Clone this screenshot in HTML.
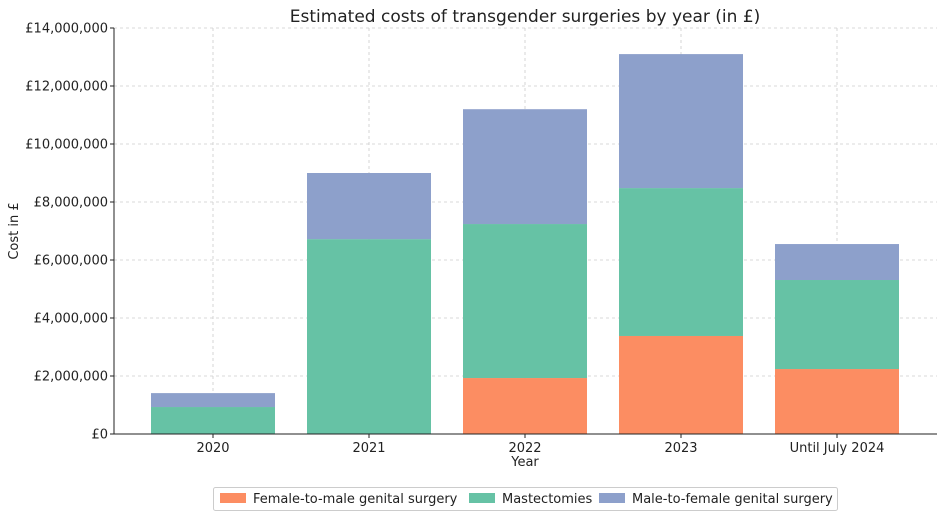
<!DOCTYPE html>
<html><head><meta charset="utf-8"><style>
body{margin:0;background:#fff;font-family:"Liberation Sans","DejaVu Sans",sans-serif;}
svg text{font-family:"DejaVu Sans","Liberation Sans",sans-serif;fill:#222;}
</style></head><body>
<svg id="chart" width="945" height="518" xmlns="http://www.w3.org/2000/svg">
<rect width="945" height="518" fill="#fff"/>
<text x="525" y="22" font-size="17" text-anchor="middle">Estimated costs of transgender surgeries by year (in £)</text>
<g id="grid"></g><g id="bars"></g><g id="axes"></g>
<text x="525" y="466" font-size="13" text-anchor="middle">Year</text>
<text x="18" y="231" font-size="13" text-anchor="middle" transform="rotate(-90 18 231)">Cost in £</text>
<g id="legend">
<rect x="213.5" y="487.5" width="624" height="23" fill="#fff" stroke="#ccc" rx="2"/>
</g>
</svg>
<script>
const categories=["2020","2021","2022","2023","Until July 2024"];
const ftm=[0,0,1930000,3380000,2240000];
const mastectomies=[930000,6720000,5310000,5100000,3070000];
const mtf=[480000,2280000,3960000,4620000,1240000];
const yTicks=[0,2000000,4000000,6000000,8000000,10000000,12000000,14000000];
const seriesNames=["Female-to-male genital surgery","Mastectomies","Male-to-female genital surgery"];
const colors=["#fc8d62","#66c2a5","#8da0cb"];
const NS="http://www.w3.org/2000/svg";
const L=114,R=937,T=28,B=434;
const y=v=>B-(v/14000000)*(B-T);
const x=i=>213+156*i;
const bw=124;
function mk(tag,attrs,parent){const e=document.createElementNS(NS,tag);for(const k in attrs)e.setAttribute(k,attrs[k]);parent.appendChild(e);return e;}
const grid=document.getElementById('grid'),bars=document.getElementById('bars'),axes=document.getElementById('axes'),legend=document.getElementById('legend');
yTicks.forEach(t=>{
 const g=mk('line',{x1:L,x2:R,y1:y(t),y2:y(t),stroke:'#ccc','stroke-dasharray':'3,3','stroke-width':0.8},grid);
 
 
 const tk=mk('line',{x1:L-4,x2:L,y1:y(t),y2:y(t),stroke:'#222'},axes);
 
 
 const lb=mk('text',{x:L-6,y:y(t)+4.5,'font-size':13,'text-anchor':'end'},axes);
 lb.textContent='£'+t.toLocaleString('en-GB');
 
 
});
categories.forEach((c,i)=>{
 const g=mk('line',{x1:x(i),x2:x(i),y1:T,y2:B,stroke:'#ccc','stroke-dasharray':'3,3','stroke-width':0.8},grid);
 
 
 let base=0;
 [ftm,mastectomies,mtf].forEach((s,k)=>{
  const v=s[i];
  if(v>0){
   const r=mk('rect',{x:x(i)-bw/2,y:y(base+v),width:bw,height:y(base)-y(base+v),fill:colors[k]},bars);
   
   
  }
  base+=v;
 });
 const tk=mk('line',{x1:x(i),x2:x(i),y1:B,y2:B+4,stroke:'#222'},axes);
 
 
 const lb=mk('text',{x:x(i),y:B+18,'font-size':13,'text-anchor':'middle'},axes);
 lb.textContent=c;
 
 
});
const ax=mk('path',{d:`M${L} ${T}V${B}H${R}`,fill:'none',stroke:'#222','stroke-width':1},axes);


const lx=[220,469,599];
seriesNames.forEach((n,k)=>{
 const r=mk('rect',{x:lx[k],y:493,width:26,height:10,fill:colors[k]},legend);
 
 
 const t=mk('text',{x:lx[k]+33,y:503,'font-size':13},legend);
 t.textContent=n;
 
 
});
</script>
</body></html>
